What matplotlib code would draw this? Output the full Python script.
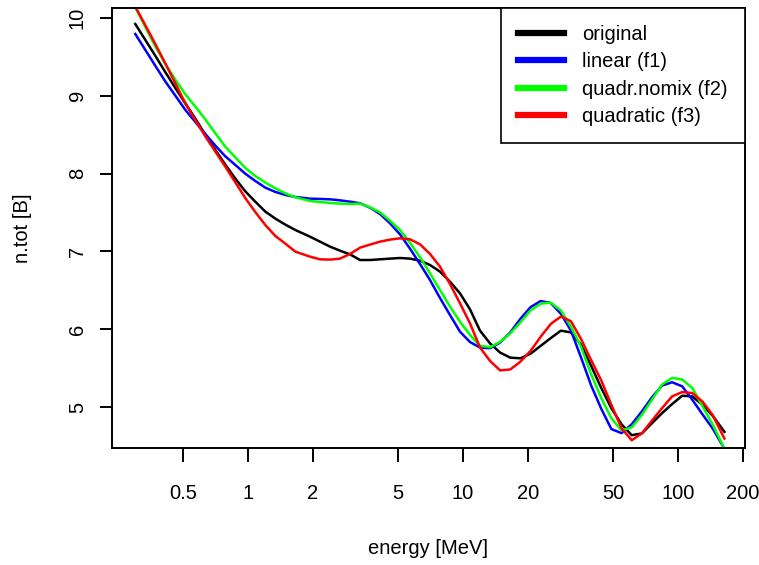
#!/usr/bin/env python3

import matplotlib
matplotlib.use('Agg')
import matplotlib.pyplot as plt
matplotlib.rcParams['font.family'] = ['Liberation Sans', 'DejaVu Sans']

# ======================================================================
# values (energy in MeV, n.tot in B)

# low energy part, shared energies
e_low = [0.299, 0.333, 0.371, 0.412, 0.459, 0.511, 0.569, 0.633, 0.705, 0.784,
         0.873, 0.971, 1.081, 1.204, 1.340, 1.491, 1.660]
# middle part
e_mid = [1.943, 2.162, 2.407, 2.679, 2.982, 3.319, 3.694, 4.111, 4.576, 5.093,
         5.668, 6.310, 7.023, 7.816, 8.699, 9.683, 10.78]
# high energy part
e_high = [12.00, 13.37, 14.89, 16.60, 18.49, 20.63, 22.98, 25.61, 28.53, 31.79,
          35.43, 39.48, 43.99, 49.00, 54.66, 60.91, 67.87, 75.61, 84.25, 93.89,
          104.6, 116.6, 129.9, 144.9, 164.4]

energy = e_low + e_mid + e_high

n_orig = [9.923, 9.717, 9.512, 9.306, 9.100, 8.903, 8.706, 8.500, 8.303, 8.115,
          7.935, 7.772, 7.639, 7.511, 7.421, 7.344, 7.275,
          7.189, 7.125, 7.061, 7.009, 6.962, 6.889, 6.889, 6.898, 6.907, 6.915,
          6.907, 6.881, 6.825, 6.740, 6.611, 6.461, 6.255,
          5.981, 5.816, 5.699, 5.634, 5.626, 5.686, 5.786, 5.886, 5.981, 5.959,
          5.799, 5.526, 5.244, 4.984, 4.777, 4.638, 4.660, 4.790, 4.920, 5.037,
          5.145, 5.136, 5.028, 4.889, 4.681]

n_lin = [9.794, 9.589, 9.383, 9.186, 9.002, 8.818, 8.663, 8.509, 8.359, 8.222,
         8.111, 7.999, 7.905, 7.819, 7.764, 7.725, 7.699,
         7.678, 7.674, 7.669, 7.656, 7.639, 7.618, 7.562, 7.481, 7.361, 7.219,
         7.035, 6.838, 6.632, 6.401, 6.183, 5.968, 5.835,
         5.764, 5.756, 5.829, 5.959, 6.133, 6.284, 6.362, 6.336, 6.198, 5.981,
         5.634, 5.275, 4.976, 4.716, 4.664, 4.777, 4.941, 5.123, 5.275, 5.318,
         5.266, 5.093, 4.907, 4.725, 4.465]

n_nomix = [10.137, 9.884, 9.631, 9.413, 9.208, 9.019, 8.860, 8.697, 8.518, 8.346,
           8.209, 8.072, 7.969, 7.884, 7.811, 7.746, 7.695,
           7.648, 7.635, 7.622, 7.614, 7.609, 7.614, 7.566, 7.502, 7.395, 7.275,
           7.112, 6.924, 6.718, 6.504, 6.290, 6.097, 5.925,
           5.786, 5.769, 5.838, 5.946, 6.089, 6.241, 6.328, 6.341, 6.241, 6.033,
           5.773, 5.418, 5.114, 4.854, 4.699, 4.738, 4.898, 5.093, 5.288, 5.374,
           5.353, 5.244, 5.011, 4.777, 4.465]

n_quad = [10.146, 9.906, 9.662, 9.417, 9.160, 8.903, 8.685, 8.479, 8.282, 8.089,
          7.888, 7.686, 7.506, 7.339, 7.198, 7.100, 6.997,
          6.932, 6.898, 6.894, 6.907, 6.967, 7.048, 7.087, 7.125, 7.151, 7.168,
          7.155, 7.091, 6.967, 6.804, 6.581, 6.332, 6.075,
          5.764, 5.591, 5.470, 5.483, 5.582, 5.721, 5.903, 6.068, 6.163, 6.102,
          5.873, 5.600, 5.340, 5.028, 4.725, 4.573, 4.660, 4.824, 4.984, 5.136,
          5.192, 5.179, 5.071, 4.898, 4.595]

labels = ['original', 'linear (f1)', 'quadr.nomix (f2)', 'quadratic (f3)']
colors = ['black', '#0000ff', '#00ff00', '#ff0000']

xticks = [0.5, 1, 2, 5, 10, 20, 50, 100, 200]
xticklabels = ['0.5', '1', '2', '5', '10', '20', '50', '100', '200']
yticks = [5, 6, 7, 8, 9, 10]

FS = 14.5

# ----------------------------------------------------------------------

def main():
    fig = plt.figure(figsize=(7.59, 5.65), dpi=100)
    ax = fig.add_axes([112/759, 1 - 448/565, 633/759, 440/565])

    for n, lab, col in zip([n_orig, n_lin, n_nomix, n_quad], labels, colors):
        ax.plot(energy, n, color=col, lw=1.8, label=lab)

    ax.set_xscale('log')
    ax.set_xlim(0.233, 205)
    ax.set_ylim(4.473, 10.128)
    ax.set_xticks(xticks)
    ax.set_xticklabels(xticklabels)
    ax.minorticks_off()
    ax.set_yticks(yticks)
    ax.set_yticklabels([str(y) for y in yticks], rotation=90, va='center')

    ax.tick_params(axis='x', length=10, width=1.4, pad=16, labelsize=FS)
    ax.tick_params(axis='y', length=9, width=1.4, pad=9, labelsize=FS)
    for sp in ax.spines.values():
        sp.set_linewidth(1.4)

    leg = ax.legend(loc='upper right', borderaxespad=0, fancybox=False,
                    edgecolor='black', framealpha=1, fontsize=FS,
                    handlelength=2.3, handletextpad=0.9, labelspacing=0.41,
                    borderpad=0.85)
    leg.get_frame().set_linewidth(1.2)
    for line in leg.get_lines():
        line.set_linewidth(4.5)

    fig.text(428/759, 1 - 548/565, 'energy [MeV]', ha='center', va='center', fontsize=FS)
    fig.text(23/759, 1 - 228/565, 'n.tot [B]', ha='center', va='center',
             rotation=90, fontsize=FS)

    fig.savefig('out.png', dpi=100)
    return plt.close()


# ======================================================================

if __name__ == '__main__':
    main()
